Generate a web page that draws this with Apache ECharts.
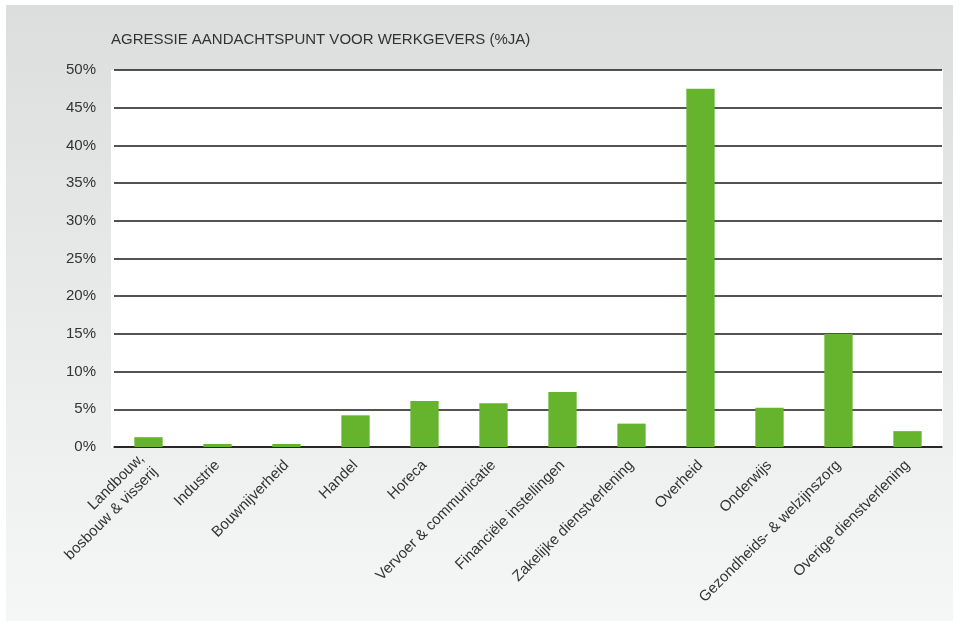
<!DOCTYPE html>
<html><head><meta charset="utf-8">
<script src="https://cdn.jsdelivr.net/npm/echarts@6/dist/echarts.min.js"></script>
<style>html,body{margin:0;padding:0;background:#fff}#c{width:960px;height:625px}</style>
</head><body><div id="c"></div>
<script>
const categories = ["Landbouw,\nbosbouw & visserij","Industrie","Bouwnijverheid","Handel","Horeca","Vervoer & communicatie","Financiële instellingen","Zakelijke dienstverlening","Overheid","Onderwijs","Gezondheids- & welzijnszorg","Overige dienstverlening"];
const values = [1.3,0.4,0.4,4.2,6.1,5.8,7.3,3.1,47.5,5.2,15.0,2.1];
const title = "AGRESSIE AANDACHTSPUNT VOOR WERKGEVERS (%JA)";
const chart = echarts.init(document.getElementById('c'));
chart.setOption({
  animation:false,
  backgroundColor:'#fff',
  graphic:[
    {type:'rect',z:-10,shape:{x:6,y:5,width:947,height:616},style:{fill:new echarts.graphic.LinearGradient(0,0,0,1,[{offset:0,color:'#dcdddd'},{offset:1,color:'#f5f6f6'}])}},
    {type:'rect',z:-9,shape:{x:111,y:70,width:832,height:378},style:{fill:'#fff'}},
    {type:'text',left:111,top:32,style:{text:title,font:'15px "Liberation Sans", Arial, sans-serif',fill:'#333'}}
  ],
  grid:{left:114,right:18,top:70,bottom:178},
  xAxis:{type:'category',data:categories,
    axisLine:{lineStyle:{color:'#1a1a1a',width:1.5}},axisTick:{show:false},
    axisLabel:{rotate:45,interval:0,color:'#333',fontSize:15,fontFamily:'Liberation Sans, Arial, sans-serif',margin:16,lineHeight:19}},
  yAxis:{type:'value',min:0,max:50,interval:5,
    axisLine:{show:false},axisTick:{show:false},
    splitLine:{lineStyle:{color:'#1a1a1a',width:1.5}},
    axisLabel:{formatter:'{value}%',color:'#333',fontSize:15,fontFamily:'Liberation Sans, Arial, sans-serif',margin:18}},
  series:[{type:'bar',data:values,barWidth:'41%',itemStyle:{color:'#66b32e'}}]
});
</script></body></html>
